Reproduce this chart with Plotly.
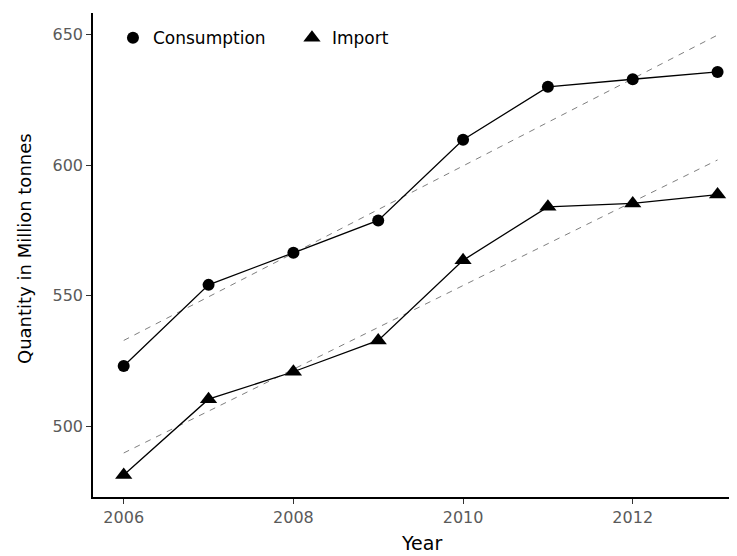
import numpy as np
import plotly.graph_objects as go

years = [2006, 2007, 2008, 2009, 2010, 2011, 2012, 2013]
consumption = [523.0, 554.1, 566.4, 578.8, 609.7, 630.0, 632.9, 635.7]
imports = [481.2, 510.3, 520.8, 532.8, 563.5, 584.0, 585.3, 588.7]
series_names = ["Consumption", "Import"]
x_ticks = [2006, 2008, 2010, 2012]
y_ticks = [500, 550, 600, 650]

FONT = "DejaVu Sans, sans-serif"
OFF = 8  # default page body margin
W, H = 737 - OFF, 556 - OFF
L, T = 93 - OFF, 13 - OFF
R = 0
B = H - (497 - OFF)
PW, PH = W - L - R, H - T - B


def px_x(p):
    return (p - OFF - L) / PW


def px_y(p):
    return (H - B - (p - OFF)) / PH


fig = go.Figure()

symbols = ["circle", "triangle-up"]
sizes = [12, 15]
for name, vals, sym, sz in zip(series_names, [consumption, imports], symbols, sizes):
    x = np.array(years, dtype=float)
    y = np.array(vals, dtype=float)
    slope, icpt = np.polyfit(x, y, 1)
    fit = slope * x + icpt
    fig.add_trace(go.Scatter(
        x=years, y=fit, mode="lines", showlegend=False, hoverinfo="skip",
        line=dict(color="#7f7f7f", width=1, dash="6px,6px")))
    fig.add_trace(go.Scatter(
        x=years, y=vals, mode="lines+markers", showlegend=False,
        line=dict(color="black", width=1.3),
        marker=dict(symbol=sym, size=sz, color="black")))
    fig.add_trace(go.Scatter(
        x=[None], y=[None], mode="markers", name=name,
        marker=dict(symbol=sym, size=sz, color="black")))

axis_common = dict(
    showgrid=False, zeroline=False, automargin=False,
    showline=True, linecolor="black", linewidth=1.5,
    ticks="outside", ticklen=5, tickcolor="#333333", tickwidth=1.2,
    tickfont=dict(family=FONT, size=16, color="#5a5a5a"),
)

fig.update_layout(
    width=W, height=H,
    margin=dict(l=L, r=R, t=T, b=B, pad=0),
    paper_bgcolor="white", plot_bgcolor="white",
    font=dict(family=FONT, size=16, color="black"),
    showlegend=True,
    legend=dict(orientation="h", x=0.031, y=0.985, xanchor="left", yanchor="top",
                bgcolor="rgba(0,0,0,0)", font=dict(family=FONT, size=17, color="black"),
                entrywidth=134, entrywidthmode="pixels", tracegroupgap=0),
    xaxis=dict(range=[2005.638, 2013.229], tickvals=x_ticks, **axis_common),
    yaxis=dict(range=[472.8, 658.3], tickvals=y_ticks, **axis_common),
    annotations=[
        dict(text="Year", xref="paper", yref="paper", x=px_x(421), y=px_y(543),
             xanchor="center", yanchor="middle", showarrow=False,
             font=dict(family=FONT, size=19, color="black")),
        dict(text="Quantity in Million tonnes", xref="paper", yref="paper",
             x=px_x(24), y=px_y(249), xanchor="center", yanchor="middle",
             textangle=-90, showarrow=False,
             font=dict(family=FONT, size=18, color="black")),
    ],
)

fig.write_html("out.html")
